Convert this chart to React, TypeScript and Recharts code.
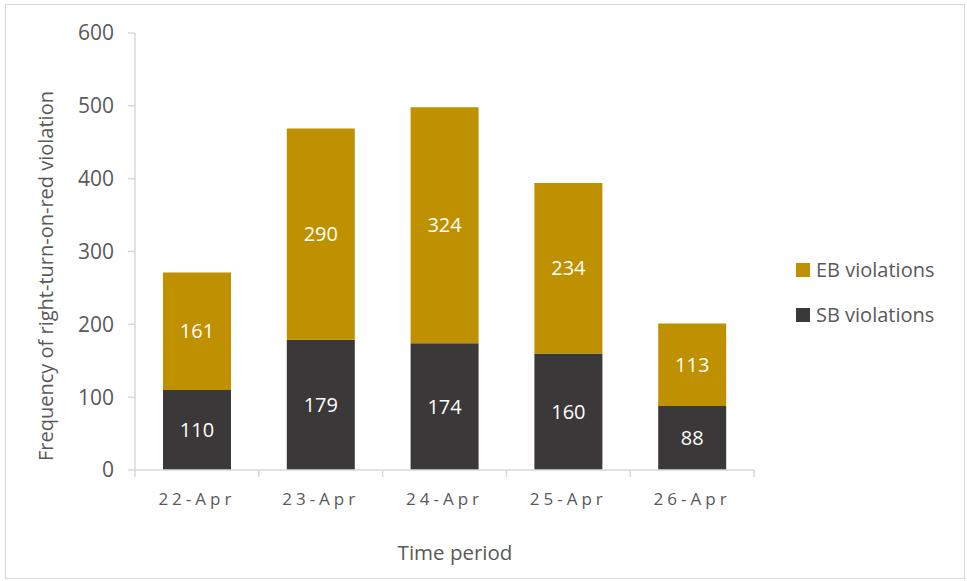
import React from "react";
import { BarChart, Bar, XAxis, YAxis, LabelList } from "recharts";

const categories = ["22-Apr", "23-Apr", "24-Apr", "25-Apr", "26-Apr"];
const sbViolations = [110, 179, 174, 160, 88];
const ebViolations = [161, 290, 324, 234, 113];
const yTicks = [0, 100, 200, 300, 400, 500, 600];

const data = categories.map((c, i) => ({ period: c, sb: sbViolations[i], eb: ebViolations[i] }));

const FONT = "'Open Sans', sans-serif";
const TEXT = "#595959";
const AXIS = "#D9D9D9";
const EB_COLOR = "#BF9000";
const SB_COLOR = "#3A3838";

const legendItems = [
  { name: "EB violations", color: EB_COLOR },
  { name: "SB violations", color: SB_COLOR },
];

const CategoryTick = (props: any) => {
  const { x, y, payload, index, width } = props;
  const band = width / categories.length;
  const left = x - band / 2;
  const right = x + band / 2;
  const top = y - 12 - 7;
  return (
    <g>
      <line x1={left} x2={left} y1={top} y2={top + 7} stroke={AXIS} strokeWidth={1.5} />
      {index === categories.length - 1 && (
        <line x1={right} x2={right} y1={top} y2={top + 7} stroke={AXIS} strokeWidth={1.5} />
      )}
      <text x={x} y={y} dy={16} textAnchor="middle" fill={TEXT} fontSize={17} letterSpacing={4} fontFamily={FONT}>
        {payload.value}
      </text>
    </g>
  );
};

export default function App() {
  return (
    <div style={{ position: "absolute", left: 0, top: 0, width: 967, height: 581, background: "#fff" }}>
      <div style={{ position: "absolute", left: 5, top: 4, width: 960, height: 575, border: "1.5px solid #D9D9D9", boxSizing: "border-box" }} />
      <BarChart
        width={967}
        height={581}
        data={data}
        margin={{ top: 33, right: 213, bottom: 81, left: 0 }}
        barSize={68}
        style={{ fontFamily: FONT }}
      >
        <XAxis
          dataKey="period"
          height={30}
          axisLine={{ stroke: AXIS, strokeWidth: 1.5 }}
          tickLine={false}
          tickSize={7}
          interval={0}
          tick={<CategoryTick />}
          tickMargin={12}
          label={(props: any) => (
            <text x={455} y={560} textAnchor="middle" fill={TEXT} fontSize={20.5} fontFamily={FONT}>
              Time period
            </text>
          )}
        />
        <YAxis
          width={135}
          domain={[0, 600]}
          ticks={yTicks}
          axisLine={{ stroke: AXIS, strokeWidth: 1.5 }}
          tickLine={{ stroke: AXIS, strokeWidth: 1.5 }}
          tickSize={7}
          tickMargin={14}
          tick={{ fill: TEXT, fontSize: 21, fontFamily: FONT }}
          label={(props: any) => (
            <text
              x={0}
              y={0}
              transform="translate(53,276) rotate(-90)"
              textAnchor="middle"
              fill={TEXT}
              fontSize={20}
              fontFamily={FONT}
            >
              Frequency of right-turn-on-red violation
            </text>
          )}
        />
        <Bar dataKey="sb" stackId="a" fill={SB_COLOR} name="SB violations" isAnimationActive={false}>
          <LabelList dataKey="sb" position="center" fill="#FFFFFF" fontSize={20} fontFamily={FONT} />
        </Bar>
        <Bar dataKey="eb" stackId="a" fill={EB_COLOR} name="EB violations" isAnimationActive={false}>
          <LabelList dataKey="eb" position="center" fill="#FFFFFF" fontSize={20} fontFamily={FONT} />
        </Bar>
      </BarChart>
      <div style={{ position: "absolute", left: 796, top: 247, fontFamily: FONT, fontSize: 20, color: TEXT }}>
        {legendItems.map((it) => (
          <div key={it.name} style={{ display: "flex", alignItems: "center", height: 45 }}>
            <span style={{ display: "inline-block", width: 14, height: 14, background: it.color, marginRight: 6 }} />
            <span>{it.name}</span>
          </div>
        ))}
      </div>
    </div>
  );
}
